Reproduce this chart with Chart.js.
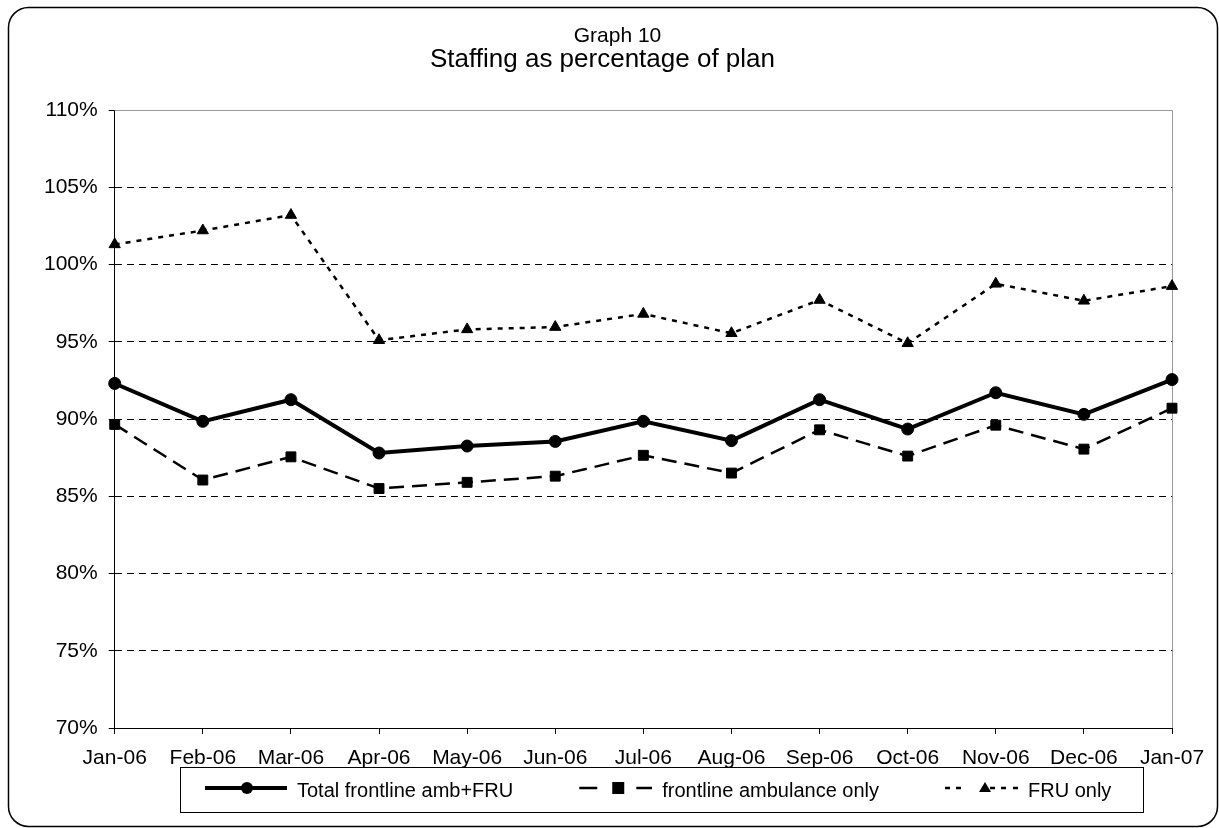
<!DOCTYPE html>
<html>
<head>
<meta charset="utf-8">
<script src="https://cdn.jsdelivr.net/npm/chart.js@4/dist/chart.umd.min.js"></script>
<style>
html,body{margin:0;padding:0;background:#fff;}
#wrap{width:1219px;height:828px;position:relative;}
</style>
</head>
<body>
<div id="wrap"><canvas id="c" width="1219" height="828"></canvas></div>
<script>
// ---- data ----
const categories = ['Jan-06','Feb-06','Mar-06','Apr-06','May-06','Jun-06','Jul-06','Aug-06','Sep-06','Oct-06','Nov-06','Dec-06','Jan-07'];
const totalFrontline = [92.3, 89.85, 91.25, 87.8, 88.25, 88.55, 89.85, 88.6, 91.25, 89.35, 91.7, 90.3, 92.55];
const ambulanceOnly = [89.65, 86.05, 87.55, 85.5, 85.9, 86.3, 87.65, 86.5, 89.3, 87.6, 89.6, 88.05, 90.7];
const fruOnly = [101.3, 102.2, 103.2, 95.1, 95.8, 95.95, 96.8, 95.55, 97.7, 94.9, 98.75, 97.65, 98.6];
const yTickValues = [70, 75, 80, 85, 90, 95, 100, 105, 110];
const seriesNames = ['Total frontline amb+FRU', 'frontline ambulance only', 'FRU only'];
const titleText = 'Graph 10';
const subtitleText = 'Staffing as percentage of plan';

Chart.defaults.font.family = "'Liberation Sans', Arial, sans-serif";
Chart.defaults.color = '#000';

// legend sample images (line + marker)
function legendImg(kind) {
  const W = 129, H = 20, cy = 7;
  const c = document.createElement('canvas');
  c.width = W; c.height = H;
  const g = c.getContext('2d');
  g.fillStyle = '#000'; g.strokeStyle = '#000';
  if (kind === 0) {
    g.lineWidth = 4;
    g.beginPath(); g.moveTo(47, cy); g.lineTo(129, cy); g.stroke();
    g.beginPath(); g.arc(89, cy, 6, 0, Math.PI * 2); g.fill();
  } else if (kind === 1) {
    g.fillRect(56, cy - 1.25, 18, 2.5);
    g.fillRect(89, cy - 6, 12, 12);
    g.fillRect(113, cy - 1.25, 16, 2.5);
  } else {
    [[56,61],[67,72],[101,106],[112,117],[124,129]].forEach(d => g.fillRect(d[0], cy - 1.25, d[1] - d[0], 2.5));
    g.beginPath(); g.moveTo(96, cy - 6); g.lineTo(102, cy + 4); g.lineTo(90, cy + 4); g.closePath(); g.fill();
  }
  return c;
}
const legendImgs = [legendImg(0), legendImg(1), legendImg(2)];

function roundRectPath(ctx, x, y, w, h, r) {
  ctx.beginPath();
  ctx.moveTo(x + r, y);
  ctx.lineTo(x + w - r, y);
  ctx.arcTo(x + w, y, x + w, y + r, r);
  ctx.lineTo(x + w, y + h - r);
  ctx.arcTo(x + w, y + h, x + w - r, y + h, r);
  ctx.lineTo(x + r, y + h);
  ctx.arcTo(x, y + h, x, y + h - r, r);
  ctx.lineTo(x, y + r);
  ctx.arcTo(x, y, x + r, y, r);
  ctx.closePath();
}

const decor = {
  id: 'decor',
  afterLayout(chart) {
    const lg = chart.legend;
    if (lg && lg.lineWidths && lg.lineWidths.length) {
      const pad = lg.options.labels.padding;
      const start = (lg.left + pad + lg.right - lg.lineWidths[0]) / 2;
      const shift = 158 - start;
      lg.left += shift; lg.right += shift;
    }
    const t = chart.titleBlock;
    if (t) { t.left += 15; t.right += 15; }
    const st = chart.$subtitle;
    if (st) { st.left += 16; st.right += 16; }
  },
  beforeDatasetsDraw(chart) {
    const {ctx, chartArea: a} = chart;
    ctx.save();
    ctx.strokeStyle = '#999';
    ctx.lineWidth = 1;
    const rx = Math.round(a.right) + 0.5, ty = Math.round(a.top) + 0.5;
    ctx.beginPath();
    ctx.moveTo(a.left, ty); ctx.lineTo(rx, ty); ctx.lineTo(rx, a.bottom);
    ctx.stroke();
    ctx.restore();
  },
  afterDraw(chart) {
    const {ctx} = chart;
    const lg = chart.legend;
    ctx.save();
    ctx.strokeStyle = '#000';
    ctx.lineWidth = 1;
    const hb = lg.legendHitBoxes;
    if (hb && hb.length) {
      const l = Math.round(hb[0].left + 22) + 0.5;
      const last = hb[hb.length - 1];
      const r = Math.round(last.left + last.width + 32) + 0.5;
      const t = Math.round(lg.top - 4) + 0.5;
      ctx.strokeRect(l, t, r - l, 45);
    }
    ctx.lineWidth = 1.5;
    roundRectPath(ctx, 8.5, 7.5, 1209, 819, 20);
    ctx.stroke();
    ctx.restore();
  }
};

new Chart(document.getElementById('c'), {
  type: 'line',
  data: {
    labels: categories,
    datasets: [
      { label: seriesNames[0], data: totalFrontline, borderColor: '#000', backgroundColor: '#000',
        borderWidth: 4, pointStyle: 'circle', pointRadius: 6, pointBorderWidth: 1, tension: 0, clip: false },
      { label: seriesNames[1], data: ambulanceOnly, borderColor: '#000', backgroundColor: '#000',
        borderWidth: 2.5, borderDash: [15, 8], pointStyle: 'rect', pointRadius: 7, pointBorderWidth: 1, tension: 0, clip: false },
      { label: seriesNames[2], data: fruOnly, borderColor: '#000', backgroundColor: '#000',
        borderWidth: 2.5, borderDash: [5, 6], pointStyle: 'triangle', pointRadius: 6.5, pointBorderWidth: 1, tension: 0, clip: false }
    ]
  },
  options: {
    responsive: false,
    animation: false,
    layout: { padding: { top: 0, left: 33, right: 47, bottom: 17 } },
    scales: {
      x: {
        type: 'category',
        offset: false,
        afterFit: s => { s.height = 6 + 11.8 + 25.2; },
        grid: { drawOnChartArea: false, drawTicks: true, tickLength: 6, tickColor: '#000', color: '#000', tickBorderDash: [] },
        border: { color: '#000', width: 1 },
        ticks: { color: '#000', font: { size: 21 }, padding: 11.8, maxRotation: 0, autoSkip: false }
      },
      y: {
        min: 70, max: 110,
        afterBuildTicks: s => { s.ticks = yTickValues.map(v => ({ value: v })); },
        grid: { color: c => (c.tick && c.tick.value === 110) ? '#999' : '#000', lineWidth: 1,
                tickLength: 6, tickColor: '#000', tickBorderDash: [] },
        border: { color: '#000', width: 1, dash: [7, 5] },
        ticks: { color: '#000', font: { size: 21 }, padding: 11, callback: v => v + '%' }
      }
    },
    plugins: {
      title: { display: true, text: titleText, color: '#000', font: { size: 21, weight: 'normal', lineHeight: 1 },
               padding: { top: 25.5, bottom: 0 } },
      subtitle: { display: true, text: subtitleText, color: '#000', font: { size: 26, weight: 'normal', lineHeight: 1 },
                  padding: { top: 0, bottom: 37.5 } },
      legend: {
        display: true, position: 'bottom',
        labels: {
          usePointStyle: true, pointStyleWidth: 129, padding: 10, color: '#000',
          font: { size: 20 },
          generateLabels: chart => chart.data.datasets.map((ds, i) => ({
            text: ds.label, pointStyle: legendImgs[i], fillStyle: '#000', strokeStyle: '#000',
            lineWidth: 0, hidden: false, datasetIndex: i
          }))
        }
      },
      tooltip: { enabled: false }
    }
  },
  plugins: [decor]
});
</script>
</body>
</html>
